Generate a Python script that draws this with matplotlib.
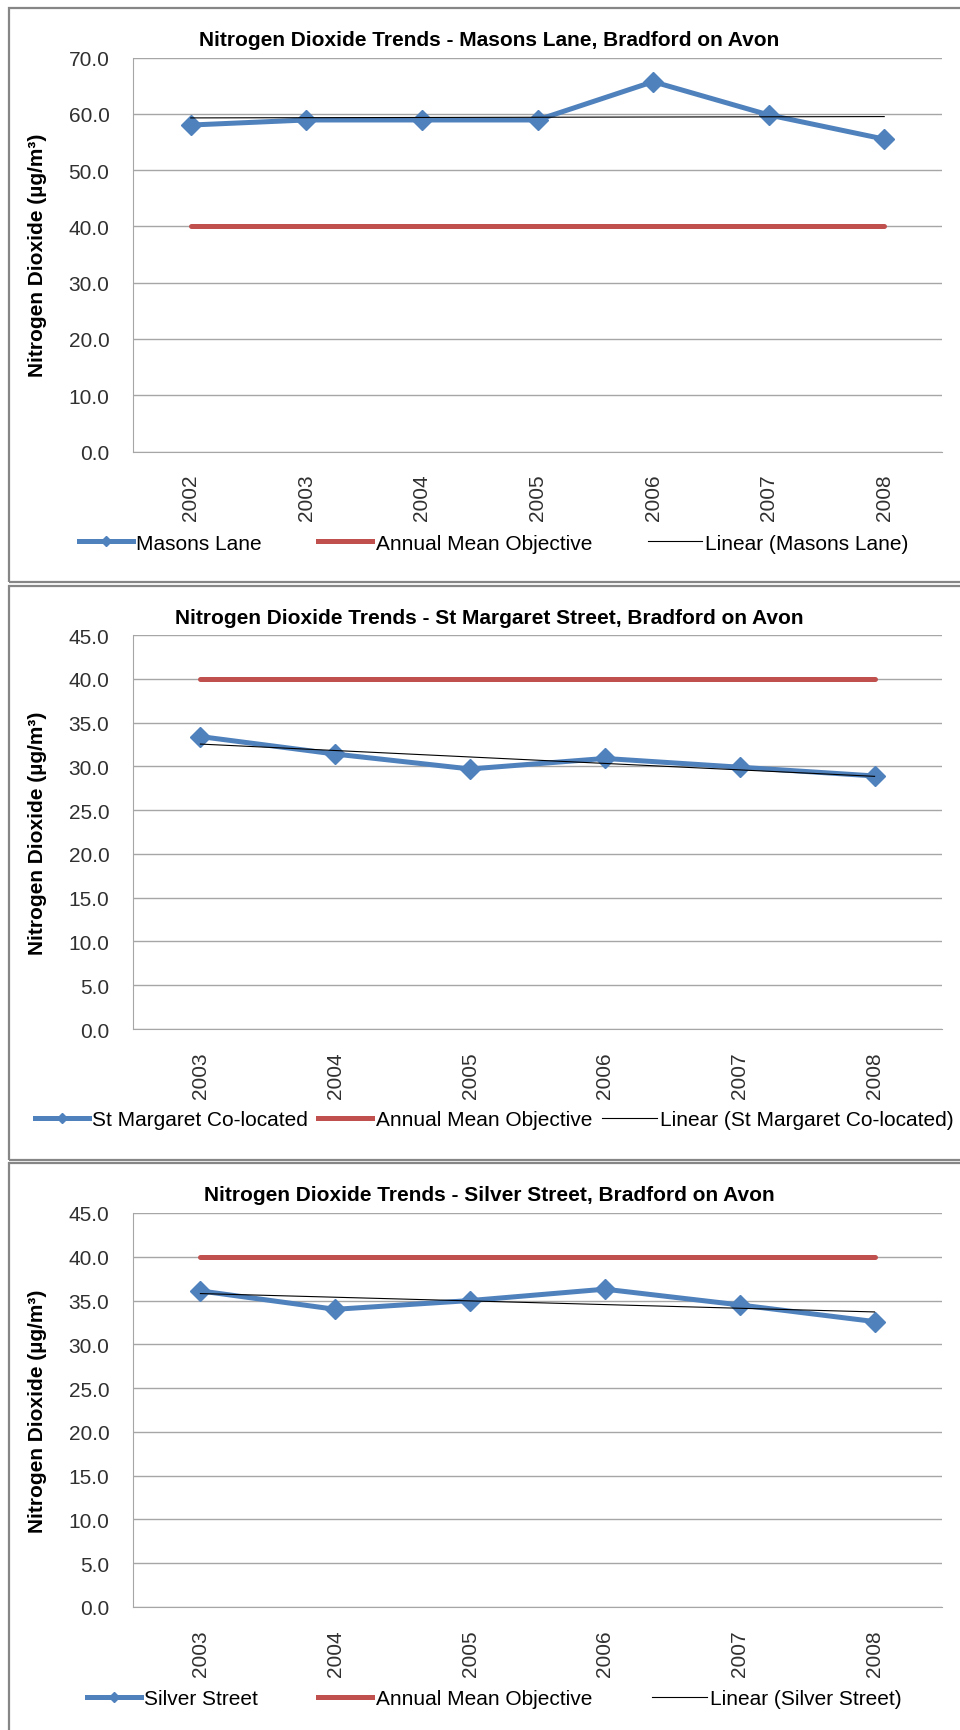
import numpy as np
import matplotlib
matplotlib.use('Agg')
import matplotlib.pyplot as plt
from matplotlib.lines import Line2D
from matplotlib.patches import Rectangle

plt.rcParams['font.family'] = ['Liberation Sans', 'DejaVu Sans']

# data
masons_years = ['2002', '2003', '2004', '2005', '2006', '2007', '2008']
masons_no2 = [58.0, 58.9, 58.9, 58.9, 65.7, 59.8, 55.5]

stmargaret_years = ['2003', '2004', '2005', '2006', '2007', '2008']
stmargaret_no2 = [33.4, 31.4, 29.7, 30.9, 29.9, 28.9]

silver_years = ['2003', '2004', '2005', '2006', '2007', '2008']
silver_no2 = [36.1, 34.0, 35.0, 36.3, 34.5, 32.6]

objective = 40.0

titles = ['Nitrogen Dioxide Trends - Masons Lane, Bradford on Avon',
          'Nitrogen Dioxide Trends - St Margaret Street, Bradford on Avon',
          'Nitrogen Dioxide Trends - Silver Street, Bradford on Avon']
series_names = ['Masons Lane', 'St Margaret Co-located', 'Silver Street']
all_years = [masons_years, stmargaret_years, silver_years]
all_values = [masons_no2, stmargaret_no2, silver_no2]
y_max = [70, 45, 45]
y_step = [10, 5, 5]

BLUE = '#4F81BD'
RED = '#C0504D'
GRID = '#A6A6A6'

W, H = 960, 1731


def fx(x):
    return x / W


def fy(y):
    return 1 - y / H


# layout in pixels (top of plot area, title y, legend y, panel box)
ax_top = [58.5, 636, 1214]
ax_h = 394
ax_left, ax_right = 133, 942
title_y = [41, 618, 1196]
legend_y = [544, 1121, 1700]
col_space = [2.7, 0.5, 2.9]
boxes = [(9, 583), (587, 1161), (1164, 1745)]

fig = plt.figure(figsize=(W / 100, H / 100), dpi=100)

for i in range(3):
    top, bot = boxes[i]
    fig.add_artist(Rectangle((fx(9), fy(bot)), fx(975 - 9), (bot - top) / H,
                             transform=fig.transFigure, fill=False,
                             edgecolor='#868686', linewidth=1.6))

    ax = fig.add_axes([fx(ax_left), fy(ax_top[i] + ax_h),
                       (ax_right - ax_left) / W, ax_h / H])
    years = all_years[i]
    vals = all_values[i]
    x = np.arange(len(years))

    coef = np.polyfit(x, vals, 1)
    trend = np.polyval(coef, x)

    ax.plot(x, [objective] * len(x), color=RED, lw=3.6, solid_capstyle='round', zorder=3)
    ax.plot(x, vals, color=BLUE, lw=3.6, marker='D', ms=10, zorder=4)
    ax.plot(x, trend, color='black', lw=0.8, zorder=5)

    ax.set_xlim(-0.5, len(x) - 0.5)
    ax.set_ylim(0, y_max[i])
    ax.set_yticks(np.arange(0, y_max[i] + 0.01, y_step[i]))
    ax.set_yticklabels(['%.1f' % v for v in np.arange(0, y_max[i] + 0.01, y_step[i])])
    ax.set_xticks(x)
    ax.set_xticklabels(years, rotation=90)
    ax.tick_params(axis='both', length=0, labelsize=15, colors='#303030')
    ax.tick_params(axis='y', pad=17)
    ax.tick_params(axis='x', pad=16)
    ax.grid(axis='y', color=GRID, lw=1.0)
    ax.set_axisbelow(True)
    for s in ['top', 'right']:
        ax.spines[s].set_visible(False)
    ax.spines['left'].set_color(GRID)
    ax.spines['bottom'].set_color(GRID)

    fig.text(fx(489), fy(title_y[i]), titles[i], ha='center', va='center',
             fontsize=15, fontweight='bold')
    fig.text(fx(38), fy(ax_top[i] + ax_h / 2), 'Nitrogen Dioxide (µg/m³)',
             rotation=90, ha='center', va='center', fontsize=15, fontweight='bold')

    handles = [Line2D([], [], color=BLUE, lw=3.6, marker='D', ms=5),
               Line2D([], [], color=RED, lw=3.6),
               Line2D([], [], color='black', lw=0.8)]
    labels = [series_names[i], 'Annual Mean Objective',
              'Linear (%s)' % series_names[i]]
    fig.legend(handles, labels, loc='center', bbox_to_anchor=(fx(494), fy(legend_y[i])),
               ncol=3, frameon=False, fontsize=15, handlelength=2.6,
               handletextpad=0.15, columnspacing=col_space[i], borderpad=0)

fig.savefig('out.png', dpi=100)
